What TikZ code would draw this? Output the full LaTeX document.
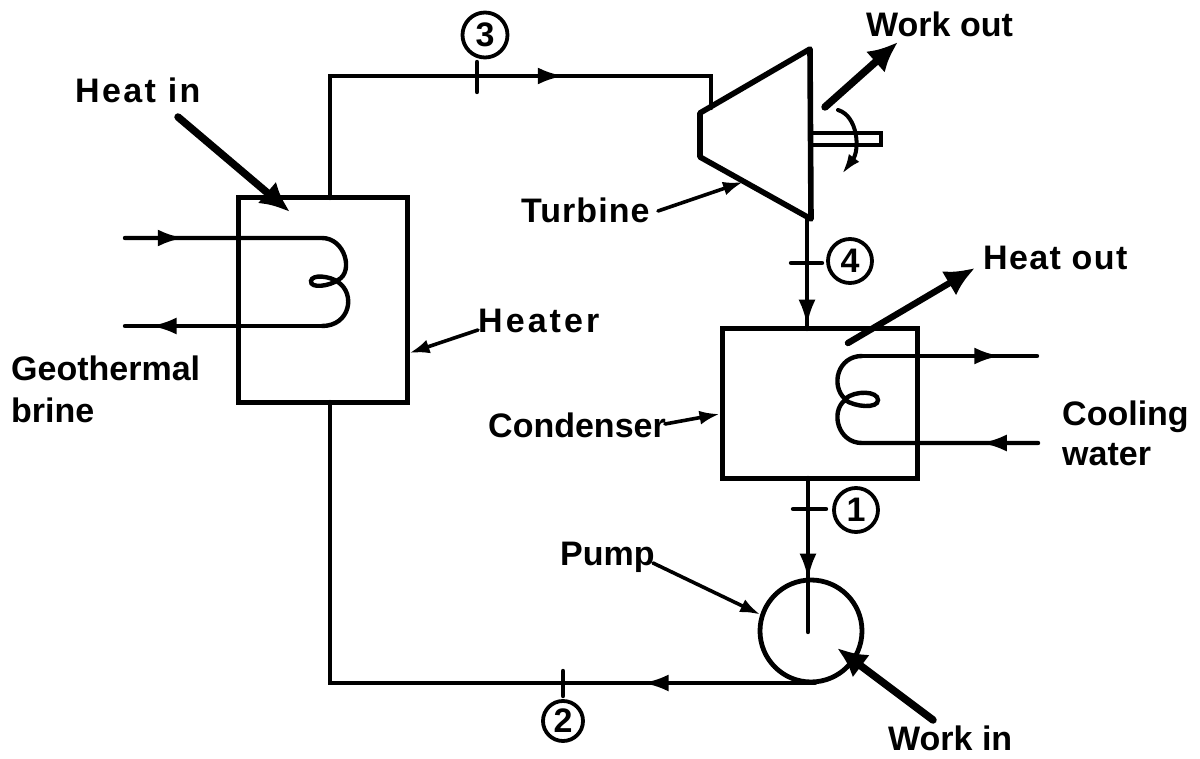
\documentclass[tikz,border=0pt]{standalone}
\usepackage{fontspec}
\setmainfont{Liberation Sans}
\usetikzlibrary{arrows.meta,decorations.markings,calc}
\newcommand{\trk}[1]{\addfontfeature{LetterSpace=#1}}
\tikzset{
  x=1pt,y=-1pt,
  pipe/.style={line width=4.4pt,line join=miter,line cap=round},
  box/.style={draw,line width=5pt,inner sep=0pt,rectangle},
  lab/.style={font=\bfseries\fontsize{34}{40}\selectfont,inner sep=0pt,align=left},
  num/.style={draw,circle,line width=3.8pt,inner sep=0pt,font=\bfseries\fontsize{34}{34}\selectfont},
  flow/.style={postaction={decorate},decoration={markings,mark=at position #1 with {\arrow{Latex[length=26pt,width=17pt]}}}},
  lead/.style={line width=3.6pt,line cap=round,-{Latex[length=20pt,width=14pt]}},
  big/.style={line width=7.5pt,line cap=round,-{Latex[length=30pt,width=28pt]}},
  tick/.style={line width=4.4pt,line cap=round},
}
\begin{document}
\begin{tikzpicture}
\useasboundingbox (0,0) rectangle (1200,759);
\fill[white] (0,0) rectangle (1200,759);
% equipment
\node[box,minimum width=169pt,minimum height=204pt] (heater) at (322.5,300) {};
\node[box,minimum width=195pt,minimum height=149pt] (condenser) at (819.5,403.5) {};
\node[draw,circle,line width=4.8pt,minimum size=102pt,inner sep=0pt] (pump) at (811,631) {};
% turbine
\coordinate (tA) at (810,49);
\coordinate (tB) at (700,113);
\coordinate (tC) at (700,157);
\coordinate (tD) at (811,219);
\draw[line width=5.6pt,line join=round] (tA)--(tB)--(tC)--(tD)--cycle;
\draw[line width=4pt] (812,133) -- (881,133) -- (881,145) -- (812,145);
% cycle piping
\coordinate (c3a) at (330,198);
\coordinate (c3b) at (330,76);
\coordinate (c3c) at (711,76);
\coordinate (c3d) at (711,108);
\draw[pipe,flow=0.665] (c3a) -- (c3b) -- (c3c) -- (c3d);
\coordinate (t4) at (807,219);
\coordinate (c4) at (807,329);
\draw[pipe,flow=0.97] (t4) -- (c4);
\coordinate (c1a) at (808,478);
\coordinate (c1b) at (808,632);
\draw[pipe,flow=0.66] (c1a) -- (c1b);
\coordinate (c2a) at (815,683);
\coordinate (c2b) at (330,683);
\coordinate (c2c) at (330,402);
\draw[pipe,flow=0.225] (c2a) -- (c2b) -- (c2c);
% state ticks
\coordinate (k3a) at (477,62); \coordinate (k3b) at (477,92);
\coordinate (k4a) at (791,263); \coordinate (k4b) at (822,263);
\coordinate (k1a) at (793,509); \coordinate (k1b) at (826,509);
\coordinate (k2a) at (563,671); \coordinate (k2b) at (563,696);
\draw[tick] (k3a)--(k3b);
\draw[tick] (k4a)--(k4b);
\draw[tick] (k1a)--(k1b);
\draw[tick] (k2a)--(k2b);
\node[num,minimum size=45pt] (n3) at (485,35) {3};
\node[num,minimum size=44pt] (n4) at (850,261) {4};
\node[num,minimum size=44pt] (n1) at (856,510) {1};
\node[num,minimum size=40pt] (n2) at (563,721) {2};
% heater coil
\coordinate (hi) at (125,238);
\coordinate (ho) at (125,326);
\draw[pipe,flow=0.155] (hi) -- (322,238)
  .. controls (345,238) and (354,272) .. (338,280)
  .. controls (330,286) and (310,289) .. (311,281)
  .. controls (312,274) and (330,276) .. (338,282)
  .. controls (356,294) and (350,326) .. (322,326);
\draw[pipe,flow=0.87] (322,326) -- (ho);
% condenser coil
\coordinate (co) at (1037,356);
\coordinate (ci) at (1038,443);
\draw[pipe,flow=0.79] (862,356) -- (co);
\draw[pipe,flow=0.155] (ci) -- (862,443)
  .. controls (838,443) and (830,412) .. (845,400)
  .. controls (855,407) and (878,409) .. (878,400)
  .. controls (878,391) and (855,390) .. (845,399)
  .. controls (830,385) and (838,356) .. (862,356);
% rotation
\coordinate (r1) at (838,110);
\coordinate (r2) at (842,174);
\draw[line width=4pt,line cap=round,-{Latex[length=20pt,width=13pt]}] (r1) .. controls (858,116) and (860,150) .. (r2);
% labels
\node[lab,anchor=base west] (heatin) at (75,103) {\trk{7}Heat in};
\node[lab,anchor=base west] (workout) at (866,37) {Work out};
\node[lab,anchor=base west] (heatout) at (983,270) {\trk{4}Heat out};
\node[lab,anchor=west] (geo) at (11,389) {Geothermal\\[2pt]brine};
\node[lab,anchor=base west] (turb) at (521,223) {\trk{3}Turbine};
\node[lab,anchor=base west] (heaterl) at (478,333) {\trk{9}Heater};
\node[lab,anchor=base west] (cond) at (488,437) {Condenser};
\node[lab,anchor=west] (cool) at (1062,433) {Cooling\\water};
\node[lab,anchor=base west] (pumpl) at (560,565) {Pump};
\node[lab,anchor=base west] (workin) at (888,750) {Work in};
% leaders
\coordinate (lt) at (658,211);
\coordinate (lh) at (478,330);
\coordinate (lc) at (665,424);
\coordinate (lp) at (653,563);
\draw[lead] (lt) -- (743,182);
\draw[lead] (lh) -- (heater.east |- 0,353);
\draw[lead] (lc) -- (condenser.west |- 0,414);
\draw[lead] (lp) -- (pump.162);
% big arrows
\coordinate (bi1) at (178,117); \coordinate (bi2) at (290,212);
\coordinate (wo1) at (825,107); \coordinate (wo2) at (898,42);
\coordinate (ho1) at (848,343); \coordinate (ho2) at (975,268);
\coordinate (wi1) at (933,720); \coordinate (wi2) at (837,648);
\draw[big] (bi1) -- (bi2);
\draw[big] (wo1) -- (wo2);
\draw[big,line width=6.4pt] (ho1) -- (ho2);
\draw[big] (wi1) -- (wi2);
\end{tikzpicture}
\end{document}
